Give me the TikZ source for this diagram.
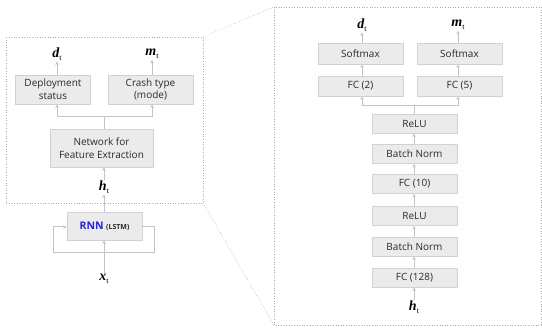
\documentclass[tikz,border=0pt]{standalone}
\usepackage{fontspec}
\setmainfont{Open Sans}
\newfontfamily\mathlike{Liberation Serif}
\usetikzlibrary{arrows.meta}
\definecolor{boxfill}{HTML}{EBEBEB}
\definecolor{boxline}{HTML}{D2D2D2}
\definecolor{arr}{HTML}{C4C4C4}
\definecolor{txt}{HTML}{2A2A2A}
\definecolor{rnnblue}{HTML}{2323D8}
\definecolor{dotc}{HTML}{A8A8A8}
\newcommand{\vlab}[1]{{\mathlike\bfseries\itshape #1}\raisebox{-0.35ex}{\fontsize{8}{8}\selectfont\mathlike t}}
\begin{document}
\begin{tikzpicture}[x=1pt,y=-1pt,
  blk/.style={draw=boxline,fill=boxfill,line width=0.8pt,text=txt,font=\fontsize{10}{12.5}\selectfont,align=center,inner sep=0pt},
  lab/.style={text=black,font=\fontsize{14}{14}\selectfont,inner sep=1pt},
  con/.style={draw=arr,line width=1pt,-{Stealth[length=3.5pt,width=3.5pt]}},
  lin/.style={draw=arr,line width=1pt},
  dot/.style={draw=dotc,line width=0.6pt,dotted}]
\useasboundingbox (0,0) rectangle (542,328);
% dotted frames
\draw[dot] (6,37) rectangle (203,203);
\draw[dot] (274,7) rectangle (541,325);
\draw[dot] (203,37) -- (274,7);
\draw[dot] (203,203) -- (274,325);
% left diagram
\node[blk,minimum width=75pt,minimum height=29pt] (dep) at (53,89.5) {Deployment\\status};
\node[blk,minimum width=85pt,minimum height=29pt] (crash) at (150.5,89.5) {Crash type\\(mode)};
\node[blk,minimum width=103pt,minimum height=38pt] (net) at (101.5,148) {Network for\\Feature Extraction};
\node[lab] (dt) at (57,54) {\vlab{d}};
\node[lab] (mt) at (152,54) {\vlab{m}};
\node[lab] (ht) at (104,187) {\vlab{h}};
\node[blk,minimum width=75pt,minimum height=28pt] (rnn) at (104.5,226) {{\color{rnnblue}\bfseries\fontsize{10.5}{12}\selectfont RNN} {\bfseries\fontsize{7}{9}\selectfont(LSTM)}};
\node[lab] (xt) at (104,279) {\vlab{x}};
\coordinate (lj) at (104,117);
\draw[con] (dt |- dep.north) -- (dt);
\draw[con] (mt |- crash.north) -- (mt);
\draw[lin] (net.north -| lj) -- (lj);
\draw[con] (lj) -| (dt |- dep.south);
\draw[con] (lj) -| (mt |- crash.south);
\draw[con] (ht) -- (net.south -| ht);
\draw[con] (rnn.north -| ht) -- (ht);
\draw[con] (xt) -- (rnn.south -| xt);
\coordinate (lp1) at (154,227);
\coordinate (lp2) at (53,253);
\draw[con] (rnn.east |- lp1) -- (lp1) |- (lp2) |- (rnn.west |- lp1);
% right diagram
\node[blk,minimum width=85pt,minimum height=21pt] (sm1) at (360.5,53.5) {Softmax};
\node[blk,minimum width=85pt,minimum height=21pt] (sm2) at (459.5,53.5) {Softmax};
\node[blk,minimum width=85pt,minimum height=20pt] (fc2) at (360.5,86) {FC (2)};
\node[blk,minimum width=85pt,minimum height=20pt] (fc5) at (459.5,86) {FC (5)};
\node[lab] (dt2) at (362,25) {\vlab{d}};
\node[lab] (mt2) at (458,25) {\vlab{m}};
\node[blk,minimum width=85pt,minimum height=19pt] (relu1) at (414.5,123.5) {ReLU};
\node[blk,minimum width=85pt,minimum height=19pt] (bn1) at (414.5,154) {Batch Norm};
\node[blk,minimum width=85pt,minimum height=19pt] (fc10) at (414.5,184) {FC (10)};
\node[blk,minimum width=85pt,minimum height=19pt] (relu2) at (414.5,216) {ReLU};
\node[blk,minimum width=85pt,minimum height=19pt] (bn2) at (414.5,246.5) {Batch Norm};
\node[blk,minimum width=85pt,minimum height=19pt] (fc128) at (414.5,277.5) {FC (128)};
\node[lab] (ht2) at (414,307) {\vlab{h}};
\coordinate (rj) at (414,106);
\draw[con] (dt2 |- sm1.north) -- (dt2);
\draw[con] (mt2 |- sm2.north) -- (mt2);
\draw[con] (dt2 |- fc2.north) -- (dt2 |- sm1.south);
\draw[con] (mt2 |- fc5.north) -- (mt2 |- sm2.south);
\draw[lin] (relu1.north -| rj) -- (rj);
\draw[con] (rj) -| (dt2 |- fc2.south);
\draw[con] (rj) -| (mt2 |- fc5.south);
\draw[con] (bn1.north -| rj) -- (relu1.south -| rj);
\draw[con] (fc10.north -| rj) -- (bn1.south -| rj);
\draw[con] (relu2.north -| rj) -- (fc10.south -| rj);
\draw[con] (bn2.north -| rj) -- (relu2.south -| rj);
\draw[con] (fc128.north -| rj) -- (bn2.south -| rj);
\draw[con] (ht2) -- (fc128.south -| ht2);
\end{tikzpicture}
\end{document}
